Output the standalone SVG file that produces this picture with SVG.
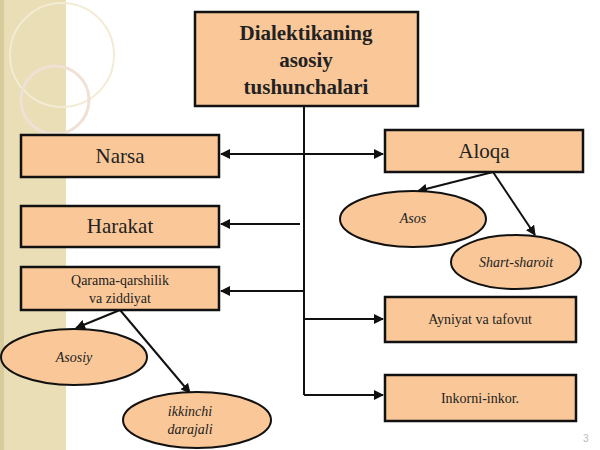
<svg xmlns="http://www.w3.org/2000/svg" width="600" height="450" viewBox="0 0 600 450">
<style>
.b{fill:#fac898;stroke:#111;stroke-width:2.5}
.e{fill:#fac898;stroke:#111;stroke-width:2}
.t{font-family:"Liberation Serif",serif;fill:#222;text-anchor:middle}
.i{font-style:italic;font-size:14px}
.c line{stroke:#111;stroke-width:2}
</style>
<defs><marker id="a" viewBox="0 0 10 10" refX="9" refY="5" markerWidth="5" markerHeight="5" orient="auto-start-reverse"><path d="M0,0L10,5L0,10z" fill="#111"/></marker></defs>
<rect x="0" y="0" width="66" height="450" fill="#e9deb6"/>
<circle cx="62" cy="55" r="52" fill="none" stroke="#f3ecd4" stroke-width="2"/>
<circle cx="55" cy="100" r="34" fill="none" stroke="#efe1d6" stroke-width="3"/>
<rect x="0" y="0" width="4" height="450" fill="#d8cc9c"/>
<g class="c">
<line x1="304" y1="106" x2="304" y2="395"/>
<line x1="304" y1="154" x2="221" y2="154" marker-end="url(#a)"/>
<line x1="304" y1="154" x2="383" y2="154" marker-end="url(#a)"/>
<line x1="300" y1="224" x2="221" y2="224" marker-end="url(#a)"/>
<line x1="304" y1="291" x2="221" y2="291" marker-end="url(#a)"/>
<line x1="304" y1="319" x2="383" y2="319" marker-end="url(#a)"/>
<line x1="304" y1="395" x2="383" y2="395" marker-end="url(#a)"/>
<line x1="493" y1="172" x2="418" y2="191" marker-end="url(#a)"/>
<line x1="493" y1="172" x2="535" y2="235" marker-end="url(#a)"/>
<line x1="120" y1="310" x2="76" y2="328" marker-end="url(#a)"/>
<line x1="120" y1="310" x2="190" y2="393" marker-end="url(#a)"/>
</g>
<g id="title"><rect class="b" x="195" y="12" width="223" height="94"/>
<text class="t" font-weight="bold" font-size="21"><tspan x="306" y="40">Dialektikaning</tspan><tspan x="306" y="67">asosiy</tspan><tspan x="306" y="94">tushunchalari</tspan></text></g>
<g id="narsa"><rect class="b" x="21" y="135" width="198" height="42"/><text class="t" x="120" y="163" font-size="21">Narsa</text></g>
<g id="aloqa"><rect class="b" x="385" y="130" width="198" height="42"/><text class="t" x="484" y="158" font-size="21">Aloqa</text></g>
<g id="harakat"><rect class="b" x="21" y="206" width="198" height="41"/><text class="t" x="120" y="233" font-size="21">Harakat</text></g>
<g id="qarama"><rect class="b" x="21" y="267" width="198" height="43"/><text class="t" font-size="14"><tspan x="120" y="285">Qarama-qarshilik</tspan><tspan x="120" y="303">va ziddiyat</tspan></text></g>
<g id="ayniyat"><rect class="b" x="385" y="297" width="191" height="45"/><text class="t" x="480" y="324" font-size="14">Ayniyat va tafovut</text></g>
<g id="inkor"><rect class="b" x="385" y="375" width="191" height="46"/><text class="t" x="480" y="403" font-size="14">Inkorni-inkor.</text></g>
<g id="asos"><ellipse class="e" cx="413" cy="219" rx="73" ry="28"/><text class="t i" x="413" y="223">Asos</text></g>
<g id="shart"><ellipse class="e" cx="516" cy="262" rx="65" ry="27"/><text class="t i" x="516" y="267">Shart-sharoit</text></g>
<g id="asosiy"><ellipse class="e" cx="74" cy="357" rx="73" ry="28"/><text class="t i" x="74" y="362">Asosiy</text></g>
<g id="ikkinchi"><ellipse class="e" cx="197" cy="420" rx="74" ry="28"/><text class="t i"><tspan x="190" y="416">ikkinchi</tspan><tspan x="190" y="434">darajali</tspan></text></g>
<text x="583" y="442" font-family="Liberation Sans,sans-serif" font-size="10" fill="#bbb">3</text>
</svg>
